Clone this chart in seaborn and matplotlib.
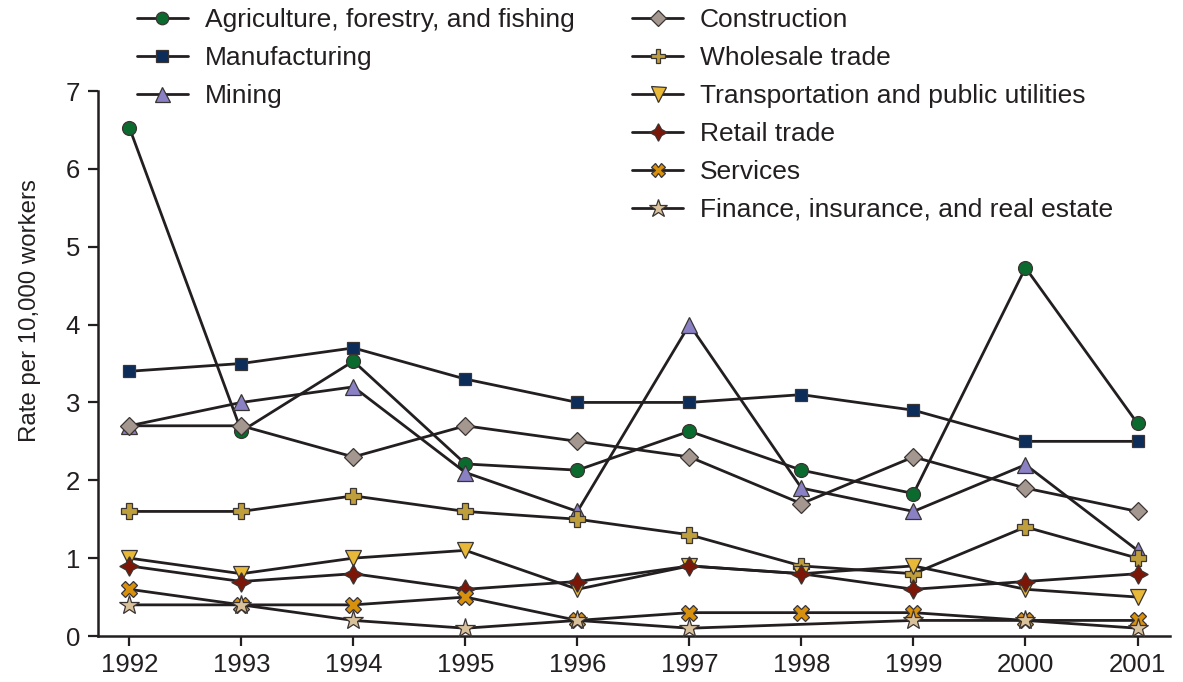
import numpy as np
import pandas as pd
import matplotlib
matplotlib.use("Agg")
import matplotlib.pyplot as plt
from matplotlib.lines import Line2D
import seaborn as sns

years = [1992, 1993, 1994, 1995, 1996, 1997, 1998, 1999, 2000, 2001]

agriculture = [6.53, 2.63, 3.53, 2.21, 2.13, 2.63, 2.13, 1.83, 4.73, 2.73]
manufacturing = [3.4, 3.5, 3.7, 3.3, 3.0, 3.0, 3.1, 2.9, 2.5, 2.5]
mining = [2.7, 3.0, 3.2, 2.1, 1.6, 4.0, 1.9, 1.6, 2.2, 1.1]
construction = [2.7, 2.7, 2.3, 2.7, 2.5, 2.3, 1.7, 2.3, 1.9, 1.6]
wholesale = [1.6, 1.6, 1.8, 1.6, 1.5, 1.3, 0.9, 0.8, 1.4, 1.0]
transportation = [1.0, 0.8, 1.0, 1.1, 0.6, 0.9, 0.8, 0.9, 0.6, 0.5]
retail = [0.9, 0.7, 0.8, 0.6, 0.7, 0.9, 0.8, 0.6, 0.7, 0.8]
services = [0.6, 0.4, 0.4, 0.5, 0.2, 0.3, 0.3, 0.3, 0.2, 0.2]
finance = [0.4, 0.4, 0.2, 0.1, 0.2, 0.1, None, 0.2, 0.2, 0.1]

series_names = [
    "Agriculture, forestry, and fishing",
    "Manufacturing",
    "Mining",
    "Construction",
    "Wholesale trade",
    "Transportation and public utilities",
    "Retail trade",
    "Services",
    "Finance, insurance, and real estate",
]
series_values = [agriculture, manufacturing, mining, construction, wholesale,
                 transportation, retail, services, finance]
marker_colors = ["#0b6a2e", "#0c2d5a", "#8a80c4", "#a3978f", "#bf9f3c",
                 "#e8b838", "#7c1606", "#d8900f", "#d9c19c"]
markers = ["o", "s", "^", "D", "P", "v", (4, 1, 0), "X", "*"]
marker_sizes = [10, 9, 12, 9, 11.5, 12, 14, 11, 15]

ytick_vals = [0, 1, 2, 3, 4, 5, 6, 7]

sns.set_theme(style="white")
plt.rcParams["font.family"] = ["Liberation Sans", "DejaVu Sans"]
text_color = "#231f20"
line_color = "#231f20"

fig = plt.figure(figsize=(11.83, 6.82), dpi=100)
ax = fig.add_axes([98 / 1183, 1 - 636 / 682, (1170 - 98) / 1183, (636 - 91) / 682])

handles = []
for name, vals, mc, mk, ms in zip(series_names, series_values, marker_colors, markers, marker_sizes):
    df = pd.DataFrame({"year": years, "value": vals}).dropna()
    sns.lineplot(data=df, x="year", y="value", ax=ax, color=line_color, linewidth=2.0,
                 marker=mk, markersize=ms, markerfacecolor=mc, markeredgecolor="#3a3433",
                 markeredgewidth=0.9, label=name, legend=False, clip_on=False, zorder=3)
    handles.append(Line2D([], [], color=line_color, linewidth=2.0, marker=mk, markersize=ms * 0.9,
                          markerfacecolor=mc, markeredgecolor="#3a3433", markeredgewidth=0.9))

ax.set_xlim(1991.72, 2001.29)
ax.set_ylim(0, 7)
ax.set_xticks(years)
ax.set_xticklabels([str(y) for y in years])
ax.set_yticks(ytick_vals)
ax.set_yticklabels([str(v) for v in ytick_vals])
ax.set_xlabel("")
ax.set_ylabel("Rate per 10,000 workers", fontsize=17.3, color=text_color)
ax.yaxis.set_label_coords(-0.053, 0.598)

for side in ["top", "right"]:
    ax.spines[side].set_visible(False)
for side in ["left", "bottom"]:
    ax.spines[side].set_color(line_color)
    ax.spines[side].set_linewidth(1.8)
ax.tick_params(axis="both", which="major", direction="out", length=7, width=1.6,
               color=line_color, labelcolor=text_color, labelsize=18.5, left=True, bottom=True)
ax.tick_params(axis="y", pad=6)
ax.tick_params(axis="x", pad=5)
ax.grid(False)

blank = Line2D([], [], linestyle="none", marker=None)
leg_handles = handles[:3] + [blank] * 3 + handles[3:]
leg_labels = series_names[:3] + [""] * 3 + series_names[3:]
leg = ax.legend(leg_handles, leg_labels, loc="upper left",
                bbox_to_anchor=(137 / 1183, 1 - 8 / 682), bbox_transform=fig.transFigure,
                ncol=2, frameon=False, borderpad=0, borderaxespad=0,
                handlelength=1.93, handletextpad=0.64, columnspacing=2.18,
                labelspacing=0.53, fontsize=19)
for t in leg.get_texts():
    t.set_color(text_color)

fig.savefig("out.png", dpi=100, facecolor="white")
